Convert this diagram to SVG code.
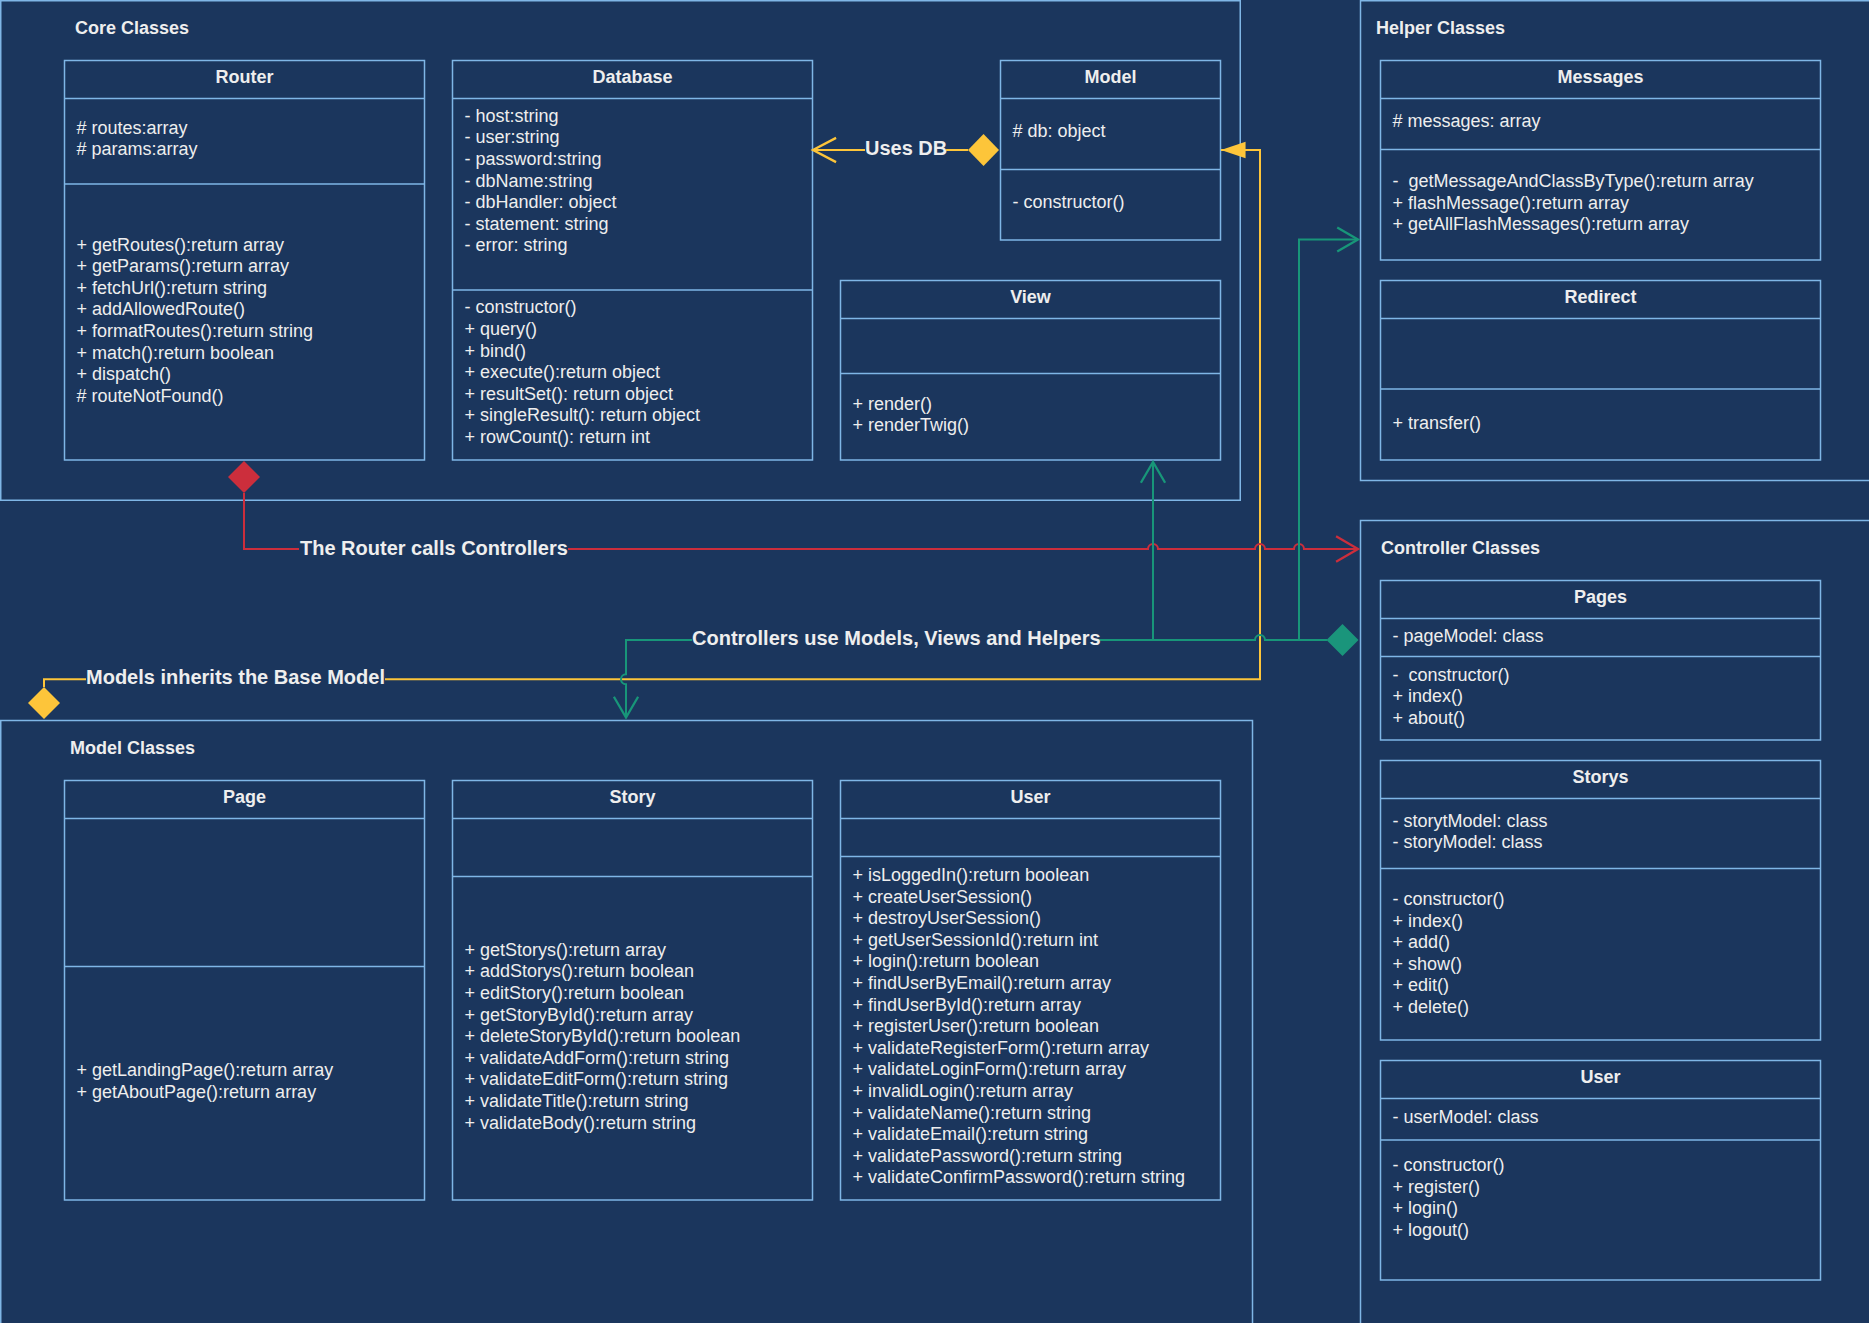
<svg xmlns="http://www.w3.org/2000/svg" width="1869" height="1323" viewBox="0 0 1869 1323">
<style>
.bg{fill:#1B365D}
.cont{fill:#1B365D;stroke:#7FB6E6;stroke-width:1.5}
.box{fill:#1B365D;stroke:#7FB6E6;stroke-width:1.5}
.div{stroke:#7FB6E6;stroke-width:1.5;fill:none}
text{font-family:"Liberation Sans",Arial,sans-serif;fill:#EEEEEE}
.ct{font-size:18px;font-weight:bold}
.ti{font-size:18px;font-weight:bold;text-anchor:middle}
.tx{font-size:18px}
.lb{font-size:20px;font-weight:bold}
.red{stroke:#CC2E3C;stroke-width:2;fill:none}
.yel{stroke:#FDC53A;stroke-width:2;fill:none}
.grn{stroke:#189679;stroke-width:2;fill:none}
.dr{fill:#CC2E3C}
.dy{fill:#FDC53A}
.dg{fill:#1A957B}
</style>
<defs>
<marker id="openR" markerUnits="userSpaceOnUse" markerWidth="30" markerHeight="30" viewBox="-22 -13 24 26" refX="0" refY="0" orient="auto" overflow="visible">
<path d="M-19,-11 L0,0 L-19,11" fill="none" stroke="#CC2E3C" stroke-width="2"/>
</marker>
<marker id="openG" markerUnits="userSpaceOnUse" markerWidth="30" markerHeight="30" viewBox="-22 -13 24 26" refX="0" refY="0" orient="auto" overflow="visible">
<path d="M-18,-10.5 L0,0 L-18,10.5" fill="none" stroke="#189679" stroke-width="2"/>
</marker>
<marker id="openY" markerUnits="userSpaceOnUse" markerWidth="30" markerHeight="30" viewBox="-22 -13 24 26" refX="0" refY="0" orient="auto" overflow="visible">
<path d="M-20,-10.5 L0,0 L-20,10.5" fill="none" stroke="#FDC53A" stroke-width="2"/>
</marker>
<marker id="blockY" markerUnits="userSpaceOnUse" markerWidth="30" markerHeight="30" viewBox="-20 -8 22 16" refX="0" refY="0" orient="auto" overflow="visible">
<path d="M-18,-6 L0,0 L-18,6 Z" fill="#FDC53A" stroke="none"/>
</marker>
</defs>
<rect class="bg" x="0" y="0" width="1869" height="1323"/>

<g id="core-classes">
<rect class="cont" x="0.75" y="0.75" width="1239.5" height="499.5"/>
<text class="ct" x="75" y="33.5">Core Classes</text>
</g>
<g id="helper-classes">
<rect class="cont" x="1360.5" y="0.75" width="530" height="479.75"/>
<text class="ct" x="1376" y="33.5">Helper Classes</text>
</g>
<g id="controller-classes">
<rect class="cont" x="1360.5" y="520.5" width="530" height="830"/>
<text class="ct" x="1381" y="553.5">Controller Classes</text>
</g>
<g id="model-classes">
<rect class="cont" x="0.75" y="720.5" width="1251.75" height="630"/>
<text class="ct" x="70" y="753.5">Model Classes</text>
</g>

<g id="router">
<rect class="box" x="64.5" y="60.5" width="360" height="399.5"/>
<path class="div" d="M64.5,98.5 H424.5 M64.5,184 H424.5"/>
<text class="ti" x="244.5" y="82.5">Router</text>
<text class="tx" x="76.5" y="133.5"># routes:array</text>
<text class="tx" x="76.5" y="155"># params:array</text>
<text class="tx" x="76.5" y="250.5">+ getRoutes():return array</text>
<text class="tx" x="76.5" y="272">+ getParams():return array</text>
<text class="tx" x="76.5" y="293.7">+ fetchUrl():return string</text>
<text class="tx" x="76.5" y="315.3">+ addAllowedRoute()</text>
<text class="tx" x="76.5" y="337">+ formatRoutes():return string</text>
<text class="tx" x="76.5" y="358.6">+ match():return boolean</text>
<text class="tx" x="76.5" y="380.2">+ dispatch()</text>
<text class="tx" x="76.5" y="401.8"># routeNotFound()</text>
</g>

<g id="database">
<rect class="box" x="452.5" y="60.5" width="360" height="399.5"/>
<path class="div" d="M452.5,98.5 H812.5 M452.5,290 H812.5"/>
<text class="ti" x="632.5" y="82.5">Database</text>
<text class="tx" x="464.5" y="121.7">- host:string</text>
<text class="tx" x="464.5" y="143.3">- user:string</text>
<text class="tx" x="464.5" y="164.9">- password:string</text>
<text class="tx" x="464.5" y="186.5">- dbName:string</text>
<text class="tx" x="464.5" y="208.1">- dbHandler: object</text>
<text class="tx" x="464.5" y="229.7">- statement: string</text>
<text class="tx" x="464.5" y="251.3">- error: string</text>
<text class="tx" x="464.5" y="313.3">- constructor()</text>
<text class="tx" x="464.5" y="334.9">+ query()</text>
<text class="tx" x="464.5" y="356.5">+ bind()</text>
<text class="tx" x="464.5" y="378.1">+ execute():return object</text>
<text class="tx" x="464.5" y="399.7">+ resultSet(): return object</text>
<text class="tx" x="464.5" y="421.3">+ singleResult(): return object</text>
<text class="tx" x="464.5" y="442.9">+ rowCount(): return int</text>
</g>

<g id="model">
<rect class="box" x="1000.5" y="60.5" width="220" height="179.5"/>
<path class="div" d="M1000.5,98.5 H1220.5 M1000.5,169.5 H1220.5"/>
<text class="ti" x="1110.5" y="82.5">Model</text>
<text class="tx" x="1012.5" y="136.7"># db: object</text>
<text class="tx" x="1012.5" y="207.7">- constructor()</text>
</g>

<g id="view">
<rect class="box" x="840.5" y="280.5" width="380" height="179.5"/>
<path class="div" d="M840.5,318.5 H1220.5 M840.5,373.5 H1220.5"/>
<text class="ti" x="1030.5" y="302.5">View</text>
<text class="tx" x="852.5" y="409.5">+ render()</text>
<text class="tx" x="852.5" y="431">+ renderTwig()</text>
</g>

<g id="messages">
<rect class="box" x="1380.5" y="60.5" width="440" height="199.5"/>
<path class="div" d="M1380.5,98.5 H1820.5 M1380.5,149.5 H1820.5"/>
<text class="ti" x="1600.5" y="82.5">Messages</text>
<text class="tx" x="1392.5" y="127"># messages: array</text>
<text class="tx" x="1392.5" y="187" xml:space="preserve">-  getMessageAndClassByType():return array</text>
<text class="tx" x="1392.5" y="208.6">+ flashMessage():return array</text>
<text class="tx" x="1392.5" y="230.2">+ getAllFlashMessages():return array</text>
</g>

<g id="redirect">
<rect class="box" x="1380.5" y="280.5" width="440" height="179.5"/>
<path class="div" d="M1380.5,318.5 H1820.5 M1380.5,389 H1820.5"/>
<text class="ti" x="1600.5" y="302.5">Redirect</text>
<text class="tx" x="1392.5" y="428.5">+ transfer()</text>
</g>

<g id="pages">
<rect class="box" x="1380.5" y="580.5" width="440" height="159.5"/>
<path class="div" d="M1380.5,618.5 H1820.5 M1380.5,656.5 H1820.5"/>
<text class="ti" x="1600.5" y="602.5">Pages</text>
<text class="tx" x="1392.5" y="641.5">- pageModel: class</text>
<text class="tx" x="1392.5" y="680.5" xml:space="preserve">-  constructor()</text>
<text class="tx" x="1392.5" y="702">+ index()</text>
<text class="tx" x="1392.5" y="723.6">+ about()</text>
</g>

<g id="storys">
<rect class="box" x="1380.5" y="760.5" width="440" height="279.5"/>
<path class="div" d="M1380.5,798.5 H1820.5 M1380.5,868.5 H1820.5"/>
<text class="ti" x="1600.5" y="782.5">Storys</text>
<text class="tx" x="1392.5" y="826.7">- storytModel: class</text>
<text class="tx" x="1392.5" y="848.3">- storyModel: class</text>
<text class="tx" x="1392.5" y="905">- constructor()</text>
<text class="tx" x="1392.5" y="926.6">+ index()</text>
<text class="tx" x="1392.5" y="948.2">+ add()</text>
<text class="tx" x="1392.5" y="969.8">+ show()</text>
<text class="tx" x="1392.5" y="991.4">+ edit()</text>
<text class="tx" x="1392.5" y="1013">+ delete()</text>
</g>

<g id="user-controller">
<rect class="box" x="1380.5" y="1060.5" width="440" height="219.5"/>
<path class="div" d="M1380.5,1098.5 H1820.5 M1380.5,1140 H1820.5"/>
<text class="ti" x="1600.5" y="1082.5">User</text>
<text class="tx" x="1392.5" y="1122.7">- userModel: class</text>
<text class="tx" x="1392.5" y="1171">- constructor()</text>
<text class="tx" x="1392.5" y="1192.6">+ register()</text>
<text class="tx" x="1392.5" y="1214.2">+ login()</text>
<text class="tx" x="1392.5" y="1235.8">+ logout()</text>
</g>

<g id="page">
<rect class="box" x="64.5" y="780.5" width="360" height="419.5"/>
<path class="div" d="M64.5,818.5 H424.5 M64.5,966.5 H424.5"/>
<text class="ti" x="244.5" y="802.5">Page</text>
<text class="tx" x="76.5" y="1076">+ getLandingPage():return array</text>
<text class="tx" x="76.5" y="1097.6">+ getAboutPage():return array</text>
</g>

<g id="story">
<rect class="box" x="452.5" y="780.5" width="360" height="419.5"/>
<path class="div" d="M452.5,818.5 H812.5 M452.5,876.5 H812.5"/>
<text class="ti" x="632.5" y="802.5">Story</text>
<text class="tx" x="464.5" y="955.7">+ getStorys():return array</text>
<text class="tx" x="464.5" y="977.3">+ addStorys():return boolean</text>
<text class="tx" x="464.5" y="998.9">+ editStory():return boolean</text>
<text class="tx" x="464.5" y="1020.5">+ getStoryById():return array</text>
<text class="tx" x="464.5" y="1042.1">+ deleteStoryById():return boolean</text>
<text class="tx" x="464.5" y="1063.7">+ validateAddForm():return string</text>
<text class="tx" x="464.5" y="1085.3">+ validateEditForm():return string</text>
<text class="tx" x="464.5" y="1106.9">+ validateTitle():return string</text>
<text class="tx" x="464.5" y="1128.5">+ validateBody():return string</text>
</g>

<g id="user-model">
<rect class="box" x="840.5" y="780.5" width="380" height="419.5"/>
<path class="div" d="M840.5,818.5 H1220.5 M840.5,856.5 H1220.5"/>
<text class="ti" x="1030.5" y="802.5">User</text>
<text class="tx" x="852.5" y="881">+ isLoggedIn():return boolean</text>
<text class="tx" x="852.5" y="902.6">+ createUserSession()</text>
<text class="tx" x="852.5" y="924.2">+ destroyUserSession()</text>
<text class="tx" x="852.5" y="945.8">+ getUserSessionId():return int</text>
<text class="tx" x="852.5" y="967.4">+ login():return boolean</text>
<text class="tx" x="852.5" y="989">+ findUserByEmail():return array</text>
<text class="tx" x="852.5" y="1010.6">+ findUserById():return array</text>
<text class="tx" x="852.5" y="1032.2">+ registerUser():return boolean</text>
<text class="tx" x="852.5" y="1053.8">+ validateRegisterForm():return array</text>
<text class="tx" x="852.5" y="1075.4">+ validateLoginForm():return array</text>
<text class="tx" x="852.5" y="1097">+ invalidLogin():return array</text>
<text class="tx" x="852.5" y="1118.6">+ validateName():return string</text>
<text class="tx" x="852.5" y="1140.2">+ validateEmail():return string</text>
<text class="tx" x="852.5" y="1161.8">+ validatePassword():return string</text>
<text class="tx" x="852.5" y="1183.4">+ validateConfirmPassword():return string</text>
</g>

<g id="connectors">
<!-- Uses DB -->
<path class="yel" d="M968,150 H946 M865,150 H813" marker-end="url(#openY)"/>
<polygon class="dy" points="983.5,134 999,150 983.5,166 968,150"/>
<text class="lb" x="865" y="154.5">Uses DB</text>

<!-- Models inherits the Base Model -->
<path class="yel" d="M44,687 V679.3 H86 M385,679.3 H1260 V150 H1221" marker-end="url(#blockY)"/>
<polygon class="dy" points="44,687 60,703 44,719 28,703"/>
<text class="lb" x="86" y="684">Models inherits the Base Model</text>

<!-- The Router calls Controllers -->
<path class="red" d="M244,493 V549 H299 M568,549 H1148 a5,5 0 0 1 10,0 H1255 a5,5 0 0 1 10,0 H1294 a5,5 0 0 1 10,0 H1358" marker-end="url(#openR)"/>
<polygon class="dr" points="244,461 260,477 244,493 228,477"/>
<text class="lb" x="300" y="554.5">The Router calls Controllers</text>

<!-- Controllers use Models, Views and Helpers -->
<path class="grn" d="M1327,640 H1265 a5,5 0 0 0 -10,0 H1098 M692,640 H626 V674.3 a5,5 0 0 0 0,10 V717.5" marker-end="url(#openG)"/>
<path class="grn" d="M1153,640 V462" marker-end="url(#openG)"/>
<path class="grn" d="M1299,640 V239.5 H1358" marker-end="url(#openG)"/>
<polygon class="dg" points="1342.5,624 1358.5,640 1342.5,656 1326.5,640"/>
<text class="lb" x="692" y="644.5">Controllers use Models, Views and Helpers</text>
</g>
</svg>
